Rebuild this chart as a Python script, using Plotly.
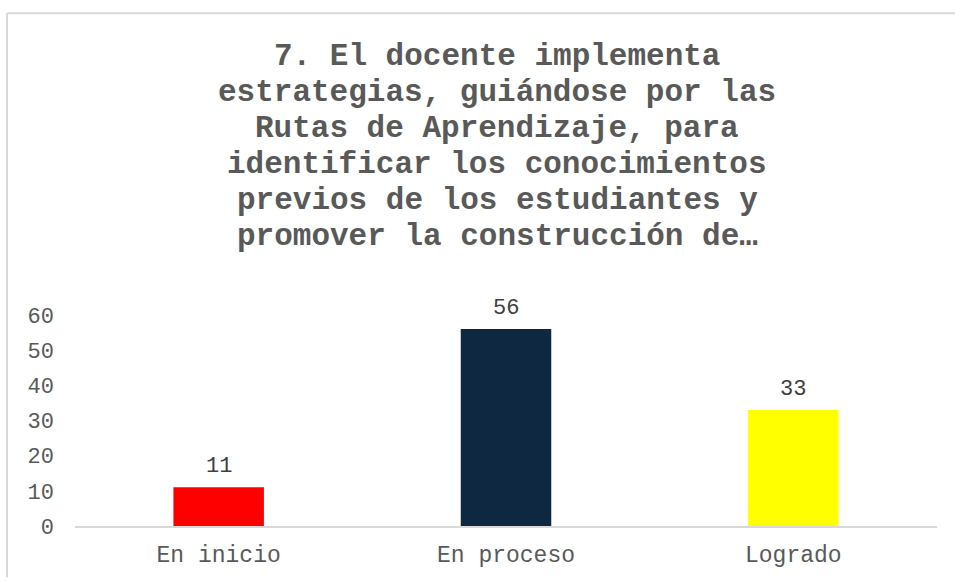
import plotly.graph_objects as go

categories = ["En inicio", "En proceso", "Logrado"]
values = [11, 56, 33]
bar_colors = ["#FF0000", "#0E2841", "#FFFF00"]
title_lines = [
    "7. El docente implementa",
    "estrategias, guiándose por las",
    "Rutas de Aprendizaje, para",
    "identificar los conocimientos",
    "previos de los estudiantes y",
    "promover la construcción de…",
]
y_ticks = [0, 10, 20, 30, 40, 50, 60]

W, H = 955, 581
L, R, T, B = 75, 18, 315, 52
plot_h = H - T - B
plot_w = W - L - R

def py(pix):  # pixel y (from top) -> paper y
    return (H - B - pix) / plot_h

def px(pix):
    return (pix - L) / plot_w

FONT = "Liberation Mono, Courier New, monospace"

fig = go.Figure()
fig.add_trace(go.Bar(
    x=categories, y=values, marker=dict(color=bar_colors, line=dict(width=0)),
    width=0.315, hoverinfo="skip",
))

annotations = []
title_centers = [53, 89.5, 126, 162.5, 199, 235.5]
for line, yc in zip(title_lines, title_centers):
    annotations.append(dict(
        text=line, x=px(497), y=py(yc), xref="paper", yref="paper",
        xanchor="center", yanchor="middle", showarrow=False,
        font=dict(family=FONT, size=31, color="#595959", weight="bold"),
    ))
for c, v in zip(categories, values):
    annotations.append(dict(
        text=str(v), x=c, y=v, xref="x", yref="y", xanchor="center",
        yanchor="bottom", yshift=6, showarrow=False,
        font=dict(family=FONT, size=22, color="#404040"),
    ))

fig.update_layout(
    width=W, height=H, margin=dict(l=L, r=R, t=T, b=B),
    paper_bgcolor="white", plot_bgcolor="white", showlegend=False,
    annotations=annotations,
    shapes=[
        dict(type="line", xref="paper", yref="paper", x0=px(7), x1=px(W),
             y0=py(9), y1=py(9), line=dict(color="#D9D9D9", width=2)),
        dict(type="line", xref="paper", yref="paper", x0=px(7), x1=px(7),
             y0=py(9), y1=py(H), line=dict(color="#D9D9D9", width=2)),
    ],
    xaxis=dict(showline=True, linecolor="#D9D9D9", linewidth=2, ticks="",
               showgrid=False, zeroline=False, ticklabelstandoff=6,
               tickfont=dict(family=FONT, size=23, color="#595959")),
    yaxis=dict(range=[0, 60], tickvals=y_ticks, showgrid=False, zeroline=False,
               showline=False, ticks="", ticklabelstandoff=20,
               tickfont=dict(family=FONT, size=22, color="#595959")),
    bargap=0.685,
)
fig.write_html("out.html", config={"displayModeBar": False},
               post_script="document.body.style.margin='0';")
